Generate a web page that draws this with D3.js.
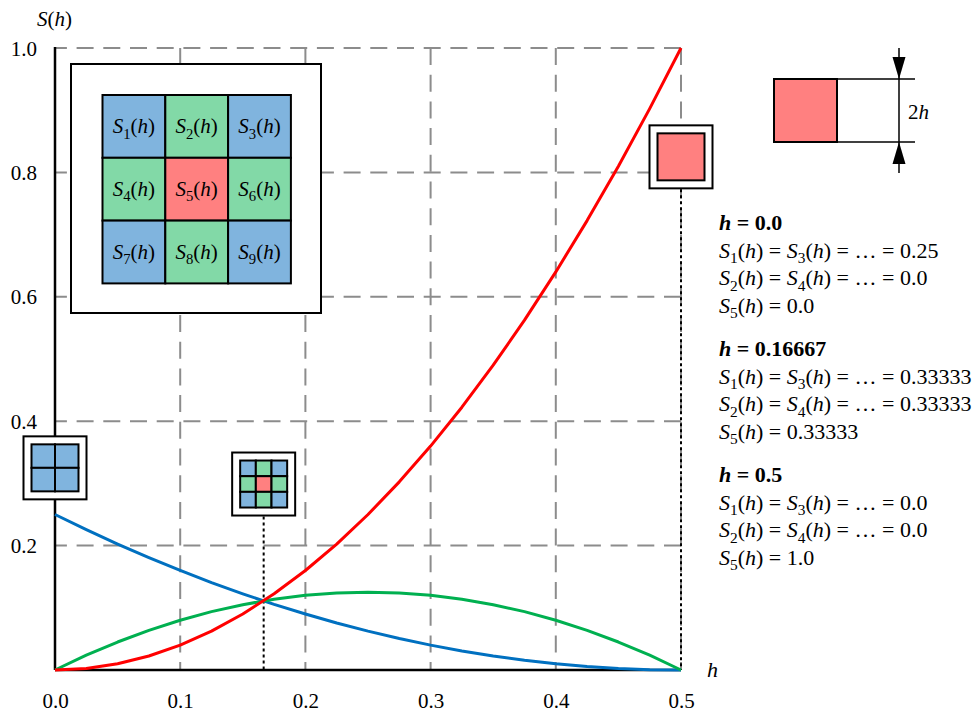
<!DOCTYPE html>
<html>
<head>
<meta charset="utf-8">
<script src="https://cdn.jsdelivr.net/npm/d3@7"></script>
</head>
<body style="margin:0">
<svg id="chart" width="974" height="716"></svg>
<script>
// Sample points of the cell weights S(h)
const hValues = [0, 0.025, 0.05, 0.075, 0.1, 0.125, 0.15, 0.175, 0.2, 0.225, 0.25,
                 0.275, 0.3, 0.325, 0.35, 0.375, 0.4, 0.425, 0.45, 0.475, 0.5];
// S1, S3, S7, S9
const cornerS = [0.25, 0.2256, 0.2025, 0.1806, 0.16, 0.1406, 0.1225, 0.1056, 0.09, 0.0756, 0.0625,
                 0.0506, 0.04, 0.0306, 0.0225, 0.0156, 0.01, 0.0056, 0.0025, 0.0006, 0];
// S2, S4, S6, S8
const edgeS   = [0, 0.0238, 0.045, 0.0638, 0.08, 0.0938, 0.105, 0.1138, 0.12, 0.1238, 0.125,
                 0.1238, 0.12, 0.1138, 0.105, 0.0938, 0.08, 0.0638, 0.045, 0.0238, 0];
// S5
const centerS = [0, 0.0025, 0.01, 0.0225, 0.04, 0.0625, 0.09, 0.1225, 0.16, 0.2025, 0.25,
                 0.3025, 0.36, 0.4225, 0.49, 0.5625, 0.64, 0.7225, 0.81, 0.9025, 1.0];

const xTicks = [0, 0.1, 0.2, 0.3, 0.4, 0.5];
const yTicks = [0.2, 0.4, 0.6, 0.8, 1.0];

// Annotated states on the right
const stateH      = ["0.0", "0.16667", "0.5"];
const stateCorner = ["0.25", "0.33333", "0.0"];
const stateEdge   = ["0.0", "0.33333", "0.0"];
const stateCenter = ["0.0", "0.33333", "1.0"];

const COL = {
  corner: "#0070c0", edge: "#00b050", center: "#ff0000",
  cornerFill: "#80b4de", edgeFill: "#82d9a7", centerFill: "#ff8080",
  grid: "#8c8c8c"
};
const FONT = "Liberation Serif";

const svg = d3.select("#chart");
const x = d3.scaleLinear().domain([0, 0.5]).range([55, 681]);
const y = d3.scaleLinear().domain([0, 1]).range([670, 48]);

// Text with italic S/h and subscript digits written as _n
function rich(parent, px, py, str, size, opts = {}) {
  const t = parent.append("text")
    .attr("x", px).attr("y", py)
    .attr("font-family", FONT)
    .attr("font-size", size)
    .attr("fill", "#000")
    .attr("text-anchor", opts.anchor || "start");
  if (opts.bold) t.attr("font-weight", "bold");
  const re = /(_\d)|([Sh])|([^_Sh]+)/g;
  let m, shift = 0;
  const sub = size * 0.25;
  while ((m = re.exec(str)) !== null) {
    const ts = t.append("tspan");
    if (m[1]) {
      ts.text(m[1].slice(1)).attr("font-size", size * 0.7).attr("dy", sub - shift);
      shift = sub;
    } else {
      ts.text(m[2] || m[3]);
      if (shift) { ts.attr("dy", -shift); shift = 0; }
      if (m[2]) ts.attr("font-style", "italic");
    }
  }
  return t;
}

// Grid
const grid = svg.append("g").attr("stroke", COL.grid).attr("stroke-width", 2)
  .attr("stroke-dasharray", "17,9.7").attr("fill", "none");
yTicks.forEach(v => grid.append("line")
  .attr("x1", x(0.5)).attr("x2", x(0)).attr("y1", y(v)).attr("y2", y(v)));
xTicks.filter(v => v > 0).forEach(v => grid.append("line")
  .attr("x1", x(v)).attr("x2", x(v)).attr("y1", y(1)).attr("y2", y(0)));

// Axes
const xAxis = svg.append("g").attr("transform", `translate(0,${y(0)})`)
  .call(d3.axisBottom(x).tickValues(xTicks).tickSize(0).tickFormat(d3.format(".1f")));
const yAxis = svg.append("g").attr("transform", `translate(${x(0)},0)`)
  .call(d3.axisLeft(y).tickValues(yTicks).tickSize(0).tickFormat(d3.format(".1f")));
[xAxis, yAxis].forEach(a => {
  a.attr("font-family", FONT).attr("font-size", 21);
  a.select(".domain").remove();
  a.selectAll("text").attr("fill", "#000").attr("dy", null);
});
xAxis.selectAll("text").attr("x", 0).attr("y", 38);
yAxis.selectAll("text").attr("x", -18).attr("y", 7);

svg.append("line").attr("x1", x(0)).attr("x2", x(0)).attr("y1", y(1) - 1).attr("y2", y(0))
  .attr("stroke", "#000").attr("stroke-width", 2.5);
svg.append("line").attr("x1", x(0)).attr("x2", x(0.5)).attr("y1", y(0)).attr("y2", y(0))
  .attr("stroke", "#000").attr("stroke-width", 2.5);

rich(svg, 37, 26, "S(h)", 21);
rich(svg, 707, 677, "h", 22);

// Small lattice glyphs anchored at selected h values
const glyphs = [
  { h: 0,     s: 0.325, n: 2 },
  { h: 1 / 6, s: 0.299, n: 3 },
  { h: 0.5,   s: 0.825, n: 1 }
];
const OUT = 63, IN = 47;
function cellFill(n, i, j) {
  if (n === 2) return COL.cornerFill;
  if (n === 1) return COL.centerFill;
  const corner = (i !== 1 && j !== 1), center = (i === 1 && j === 1);
  return center ? COL.centerFill : corner ? COL.cornerFill : COL.edgeFill;
}

// Dotted drop lines
glyphs.forEach(g => {
  svg.append("line").attr("x1", x(g.h)).attr("x2", x(g.h))
    .attr("y1", y(g.s) + OUT / 2 + 1).attr("y2", y(0))
    .attr("stroke", "#000").attr("stroke-width", 2).attr("stroke-dasharray", "3,3");
});

// Curves
const line = d3.line().x((d, i) => x(hValues[i])).y(d => y(d));
[[cornerS, COL.corner], [edgeS, COL.edge], [centerS, COL.center]].forEach(([vals, c]) => {
  svg.append("path").attr("d", line(vals)).attr("fill", "none")
    .attr("stroke", c).attr("stroke-width", 3).attr("stroke-linejoin", "round");
});

glyphs.forEach(g => {
  const cx = x(g.h), cy = y(g.s);
  const grp = svg.append("g");
  grp.append("rect").attr("x", cx - OUT / 2).attr("y", cy - OUT / 2).attr("width", OUT).attr("height", OUT)
    .attr("fill", "#fff").attr("stroke", "#000").attr("stroke-width", 2);
  const c = IN / g.n;
  for (let i = 0; i < g.n; i++) for (let j = 0; j < g.n; j++) {
    grp.append("rect").attr("x", cx - IN / 2 + j * c).attr("y", cy - IN / 2 + i * c)
      .attr("width", c).attr("height", c).attr("fill", cellFill(g.n, i, j))
      .attr("stroke", "#000").attr("stroke-width", 2);
  }
});

// Large 3x3 stencil with labels
const big = svg.append("g");
big.append("rect").attr("x", 71).attr("y", 64).attr("width", 250).attr("height", 249)
  .attr("fill", "#fff").attr("stroke", "#000").attr("stroke-width", 2);
const bx = 102.5, by = 95, bc = 62.8;
for (let i = 0; i < 3; i++) for (let j = 0; j < 3; j++) {
  big.append("rect").attr("x", bx + j * bc).attr("y", by + i * bc).attr("width", bc).attr("height", bc)
    .attr("fill", cellFill(3, i, j)).attr("stroke", "#000").attr("stroke-width", 2);
  rich(big, bx + j * bc + bc / 2, by + i * bc + bc / 2 + 7, `S_${i * 3 + j + 1}(h)`, 21, { anchor: "middle" });
}

// Cell-size sketch
const sk = svg.append("g").attr("stroke", "#000");
sk.append("rect").attr("x", 774).attr("y", 79).attr("width", 63).attr("height", 63)
  .attr("fill", COL.centerFill).attr("stroke-width", 2);
sk.append("line").attr("x1", 837).attr("x2", 915).attr("y1", 79).attr("y2", 79).attr("stroke-width", 1.5);
sk.append("line").attr("x1", 837).attr("x2", 915).attr("y1", 142).attr("y2", 142).attr("stroke-width", 1.5);
sk.append("line").attr("x1", 899).attr("x2", 899).attr("y1", 48).attr("y2", 173).attr("stroke-width", 1.5);
sk.append("path").attr("d", "M899,79 L892.5,57 L905.5,57 Z").attr("fill", "#000").attr("stroke", "none");
sk.append("path").attr("d", "M899,142 L892.5,164 L905.5,164 Z").attr("fill", "#000").attr("stroke", "none");
rich(svg, 908, 119, "2h", 21);

// State listing
stateH.forEach((hv, k) => {
  const top = 230 + k * 126;
  rich(svg, 719, top, `h = ${hv}`, 22, { bold: true });
  rich(svg, 719, top + 27.5, `S_1(h) = S_3(h) = … = ${stateCorner[k]}`, 22);
  rich(svg, 719, top + 55, `S_2(h) = S_4(h) = … = ${stateEdge[k]}`, 22);
  rich(svg, 719, top + 82.5, `S_5(h) = ${stateCenter[k]}`, 22);
});
</script>
</body>
</html>
